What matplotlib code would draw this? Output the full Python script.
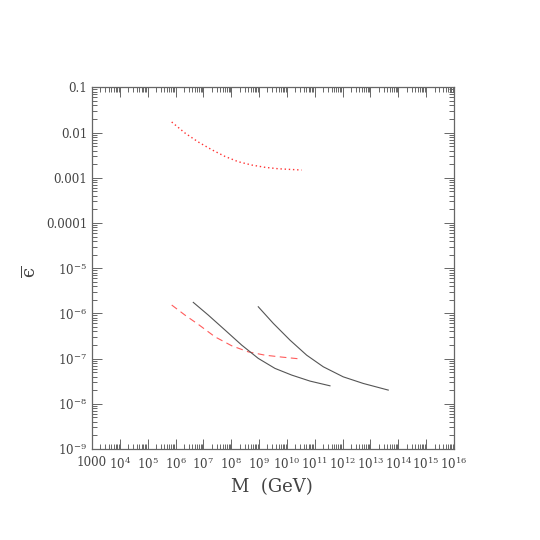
import matplotlib
matplotlib.use("Agg")
import matplotlib.pyplot as plt
from matplotlib.ticker import FixedLocator, LogLocator, NullFormatter

plt.rcParams['font.family'] = ['DejaVu Serif']
plt.rcParams['mathtext.fontset'] = 'dejavuserif'

# curves: M in GeV, epsilon-bar
m_dotted = [7.28e5, 2.18e6, 6.56e6, 1.99e7, 5.97e7, 1.79e8, 5.42e8, 1.63e9, 4.9e9, 3.39e10]
eps_dotted = [1.71e-2, 9.75e-3, 6.17e-3, 4.17e-3, 2.96e-3, 2.26e-3, 1.91e-3, 1.70e-3, 1.58e-3, 1.48e-3]

m_dashed = [7.28e5, 2.18e6, 6.56e6, 2.61e7, 1.04e8, 4.09e8, 1.63e9, 6.49e9, 3.39e10]
eps_dashed = [1.53e-6, 9.16e-7, 5.71e-7, 3.03e-7, 1.92e-7, 1.41e-7, 1.19e-7, 1.08e-7, 9.75e-8]

m_solid1 = [4.34e6, 1.50e7, 5.97e7, 2.37e8, 9.35e8, 3.72e9, 1.48e10, 6.73e10, 3.52e11]
eps_solid1 = [1.75e-6, 9.16e-7, 4.28e-7, 1.99e-7, 1.01e-7, 6.07e-8, 4.32e-8, 3.18e-8, 2.50e-8]

m_solid2 = [9.35e8, 3.24e9, 1.29e10, 5.12e10, 2.02e11, 1.05e12, 5.51e12, 4.36e13]
eps_solid2 = [1.40e-6, 6.01e-7, 2.56e-7, 1.19e-7, 6.59e-8, 3.95e-8, 2.82e-8, 2.01e-8]

xticks = [10.0**k for k in range(3, 17)]
xticklabels = ['1000'] + [r'$10^{%d}$' % k for k in range(4, 17)]
yticks = [10.0**k for k in range(-9, 0)]
yticklabels = [r'$10^{%d}$' % k for k in range(-9, -4)] + ['0.0001', '0.001', '0.01', '0.1']

fig = plt.figure(figsize=(5.4, 5.4), dpi=100)
ax = fig.add_axes([0.1704, 0.1685, 0.6703, 0.6698])

red = '#ff3333'
grey = '#555555'
ax.plot(m_dotted, eps_dotted, color=red, linestyle=(0, (1, 2)), linewidth=1.0)
ax.plot(m_dashed, eps_dashed, color=red, linestyle=(0, (6, 4)), linewidth=0.8, alpha=0.8)
ax.plot(m_solid1, eps_solid1, color=grey, linewidth=0.8)
ax.plot(m_solid2, eps_solid2, color=grey, linewidth=0.8)

ax.set_xscale('log')
ax.set_yscale('log')
ax.set_xlim(1e3, 1e16)
ax.set_ylim(1e-9, 0.1)

ax.xaxis.set_major_locator(FixedLocator(xticks))
ax.set_xticklabels(xticklabels)
ax.yaxis.set_major_locator(FixedLocator(yticks))
ax.set_yticklabels(yticklabels)
ax.xaxis.set_minor_locator(LogLocator(base=10, subs=range(2, 10), numticks=50))
ax.yaxis.set_minor_locator(LogLocator(base=10, subs=range(2, 10), numticks=50))
ax.xaxis.set_minor_formatter(NullFormatter())
ax.yaxis.set_minor_formatter(NullFormatter())

ax.tick_params(which='both', direction='in', top=True, right=True, colors='#666666',
               labelcolor='#444444', labelsize=8.6, width=0.7)
ax.tick_params(which='major', length=7)
ax.tick_params(which='minor', length=3.5)
ax.tick_params(axis='x', pad=5)
for s in ax.spines.values():
    s.set_color('#666666')
    s.set_linewidth(0.9)

fig.text(0.503, 0.098, 'M  (GeV)', ha='center', va='center', fontsize=13, color='#444444')
fig.text(0.056, 0.497, r'$\overline{\mathrm{ϵ}}$', ha='center', va='center', rotation=90,
         fontsize=13, color='#444444')

plt.savefig('out.png', dpi=100)
